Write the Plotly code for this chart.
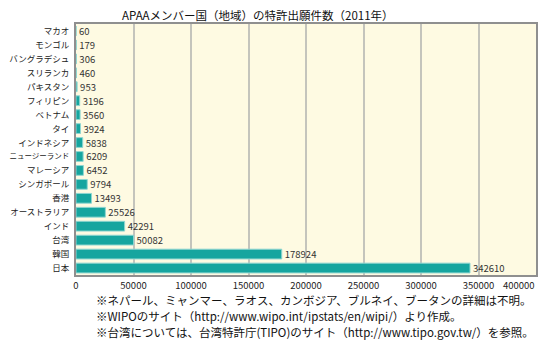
import plotly.graph_objects as go

categories = ["マカオ", "モンゴル", "バングラデシュ", "スリランカ", "パキスタン", "フィリピン", "ベトナム", "タイ",
              "インドネシア", "ニュージーランド", "マレーシア", "シンガポール", "香港", "オーストラリア",
              "インド", "台湾", "韓国", "日本"]
values = [60, 179, 306, 460, 953, 3196, 3560, 3924, 5838, 6209, 6452, 9794, 13493, 25526, 42291, 50082, 178924, 342610]
x_ticks = [0, 50000, 100000, 150000, 200000, 250000, 300000, 350000]
last_tick = "400000"
title = "APAAメンバー国（地域）の特許出願件数（2011年）"
notes = [
    "※ネパール、ミャンマー、ラオス、カンボジア、ブルネイ、ブータンの詳細は不明。",
    "※WIPOのサイト（http://www.wipo.int/ipstats/en/wipi/）より作成。",
    "※台湾については、台湾特許庁(TIPO)のサイト（http://www.tipo.gov.tw/）を参照。",
]

FONT = "Noto Sans CJK JP"
# page body has an 8px default margin; figure sized/placed to compensate
OFF = 8
W, H = 547 - OFF, 359 - OFF
L, T = 76 - OFF, 24 - OFF
R = W - (536 - OFF)
B = H - (275 - OFF)
pw, ph = W - L - R, H - T - B

def px_x(px):
    return (px - OFF - L) / pw

def px_y(py):
    return (H - B - (py - OFF)) / ph

tick_labels = [c if len(c) < 8 else '<span style="font-size:7.5px">' + c + '</span>' for c in categories]

fig = go.Figure(go.Bar(
    x=values, y=categories, orientation="h",
    marker=dict(color="#16a59f", line=dict(color="#8fd6d1", width=1)),
    width=0.7,
    text=[str(v) for v in values], textposition="outside",
    constraintext="none",
    textfont=dict(size=9.5, color="#333333", family=FONT),
    cliponaxis=False,
))

fig.update_layout(
    width=W, height=H,
    margin=dict(l=L, r=R, t=T, b=B, autoexpand=False),
    paper_bgcolor="white", plot_bgcolor="#fefae2",
    showlegend=False,
    font=dict(family=FONT, size=10, color="#222222"),
    xaxis=dict(range=[0, 400000], tickvals=x_ticks, ticktext=[str(t) for t in x_ticks],
               showgrid=True, gridcolor="#c4c4bc", gridwidth=1.5,
               showline=True, linecolor="#8f8f8f", linewidth=2, mirror="all",
               zeroline=False, ticks="", automargin=False, ticklabelstandoff=1,
               tickfont=dict(size=9.5, color="#222222")),
    yaxis=dict(categoryorder="array", categoryarray=categories, autorange="reversed",
               tickvals=categories, ticktext=tick_labels,
               showgrid=False, showline=True, linecolor="#8f8f8f", linewidth=2, mirror="all",
               ticks="", ticklabelstandoff=3, automargin=False,
               tickfont=dict(size=8.5, color="#222222")),
)

fig.add_annotation(text=title, xref="paper", yref="paper", x=px_x(258), y=px_y(15),
                   xanchor="center", yanchor="middle", showarrow=False, borderpad=0,
                   font=dict(size=11.5, color="#111111", family=FONT))

fig.add_annotation(text=last_tick, xref="paper", yref="paper", x=1.0, y=px_y(285),
                   xanchor="right", yanchor="middle", showarrow=False, borderpad=0,
                   font=dict(size=9.5, color="#222222", family=FONT))

for n, py in zip(notes, [300, 316, 332]):
    fig.add_annotation(text=n, xref="paper", yref="paper", x=px_x(95), y=px_y(py),
                       xanchor="left", yanchor="middle", showarrow=False, borderpad=0,
                       font=dict(size=11.5, color="#111111", family=FONT))

fig.write_html("out.html")
